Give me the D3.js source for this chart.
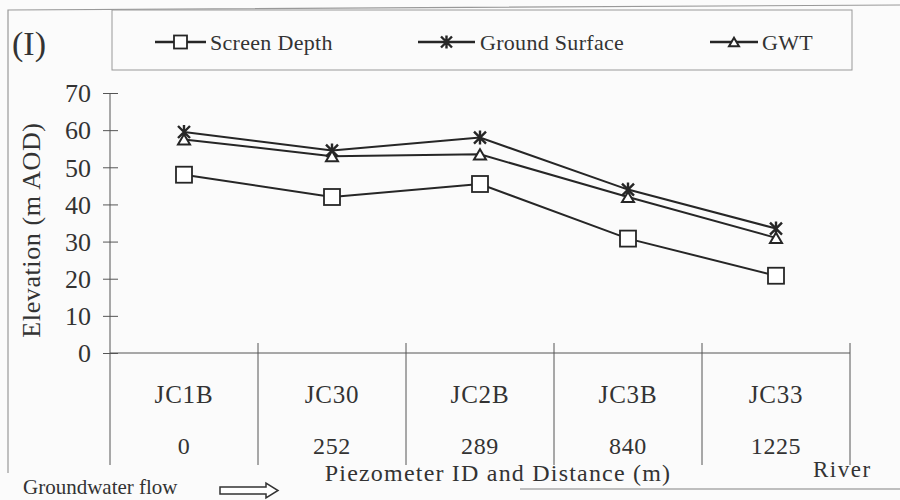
<!DOCTYPE html>
<html>
<head>
<meta charset="utf-8">
<script src="https://cdn.jsdelivr.net/npm/d3@7"></script>
<style>
  html, body { margin: 0; padding: 0; background: #fbfbfb; }
  svg { display: block; }
  text { font-family: "Liberation Serif", "Times New Roman", serif; fill: #333; }
</style>
</head>
<body>
<svg id="chart" width="900" height="500"></svg>
<script>
// ---- data ----
const categories = ["JC1B", "JC30", "JC2B", "JC3B", "JC33"];
const distances = ["0", "252", "289", "840", "1225"];
const screenDepth = [48, 42, 45.5, 30.8, 20.8];
const groundSurface = [59.5, 54.5, 58, 44, 33.5];
const gwt = [57.5, 53, 53.5, 42, 31];
const yTicks = [0, 10, 20, 30, 40, 50, 60, 70];
const seriesNames = ["Screen Depth", "Ground Surface", "GWT"];

const svg = d3.select("#chart");
const ink = "#262626";

// outer frame (scanned figure border)
svg.append("path")
  .attr("d", "M8,473 L8,10 L900,5")
  .attr("fill", "none").attr("stroke", "#999").attr("stroke-width", 1.2);
svg.append("line")
  .attr("x1", 520).attr("x2", 900).attr("y1", 489).attr("y2", 489)
  .attr("stroke", "#aaa").attr("stroke-width", 1.5);

// panel label
svg.append("text").attr("x", 12).attr("y", 55)
  .style("font-size", "34px").text("(I)");

// scales
const x = d3.scaleBand().domain(categories).range([110, 850]).padding(0);
const y = d3.scaleLinear().domain([0, 70]).range([353, 93]);

// y axis
const yAxis = svg.append("g").attr("transform", "translate(110,0)")
  .call(d3.axisLeft(y).tickValues(yTicks).tickSize(7).tickSizeOuter(0).tickPadding(12));
yAxis.select(".domain").remove();
yAxis.selectAll(".tick line").attr("x1", 8).attr("stroke", "#555").attr("stroke-width", 1);
yAxis.selectAll(".tick text")
  .style("font-family", "'Liberation Serif', 'Times New Roman', serif")
  .style("font-size", "26px").attr("fill", "#333").attr("dy", "0.34em");
svg.append("line").attr("x1", 110).attr("x2", 110).attr("y1", y(70)).attr("y2", 465)
  .attr("stroke", "#555").attr("stroke-width", 1);

// x axis line + category dividers
svg.append("line").attr("x1", 110).attr("x2", 850).attr("y1", y(0)).attr("y2", y(0))
  .attr("stroke", "#555").attr("stroke-width", 1);
const bounds = categories.slice(1).map(c => x(c)).concat([x.range()[1]]);
svg.selectAll("line.div").data(bounds).enter().append("line")
  .attr("class", "div")
  .attr("x1", d => d).attr("x2", d => d).attr("y1", 343).attr("y2", 465)
  .attr("stroke", "#555").attr("stroke-width", 1);

// category and distance labels
const cx = c => x(c) + x.bandwidth() / 2;
svg.selectAll("text.cat").data(categories).enter().append("text")
  .attr("class", "cat").attr("x", c => cx(c)).attr("y", 403)
  .attr("text-anchor", "middle").style("font-size", "25px").style("letter-spacing", "0.8px")
  .text(d => d);
svg.selectAll("text.dist").data(distances).enter().append("text")
  .attr("class", "dist").attr("x", (d, i) => cx(categories[i])).attr("y", 454)
  .attr("text-anchor", "middle").style("font-size", "24px").style("letter-spacing", "0.6px")
  .text(d => d);

// axis titles
svg.append("text").attr("x", 498).attr("y", 481).attr("text-anchor", "middle")
  .style("font-size", "24px").style("letter-spacing", "1.2px")
  .text("Piezometer ID and Distance (m)");
svg.append("text").attr("x", 813).attr("y", 477)
  .style("font-size", "23px").style("letter-spacing", "1.5px").text("River");
svg.append("text").attr("transform", "translate(40,230) rotate(-90)")
  .attr("text-anchor", "middle").style("font-size", "26px").style("letter-spacing", "0.6px")
  .text("Elevation (m AOD)");

// groundwater flow note + arrow
svg.append("text").attr("x", 23).attr("y", 494)
  .style("font-size", "21px").style("letter-spacing", "0px").text("Groundwater flow");
svg.append("path")
  .attr("d", "M220,487 L266,487 L266,483 L278,490.5 L266,498 L266,494 L220,494 Z")
  .attr("fill", "#fff").attr("stroke", "#333").attr("stroke-width", 1.5);

// marker drawers
function drawMarker(g, type, px, py, s) {
  if (type === "square") {
    g.append("rect").attr("x", px - s / 2).attr("y", py - s / 2).attr("width", s).attr("height", s)
      .attr("fill", "#fff").attr("stroke", ink).attr("stroke-width", 1.8);
  } else if (type === "triangle") {
    const h = s * 0.85;
    g.append("path")
      .attr("d", `M${px},${py - h / 2} L${px + s / 2},${py + h / 2} L${px - s / 2},${py + h / 2} Z`)
      .attr("fill", "#fff").attr("stroke", ink).attr("stroke-width", 2);
  } else {
    const r = s / 2;
    g.append("path")
      .attr("d", `M${px - r},${py - r} L${px + r},${py + r} M${px + r},${py - r} L${px - r},${py + r} M${px},${py - r - 1} L${px},${py + r + 1}`)
      .attr("fill", "none").attr("stroke", ink).attr("stroke-width", 2.4);
  }
}

// series
const series = [
  { name: seriesNames[0], values: screenDepth, type: "square", size: 16 },
  { name: seriesNames[1], values: groundSurface, type: "star", size: 12 },
  { name: seriesNames[2], values: gwt, type: "triangle", size: 12 }
];
const line = d3.line().x((d, i) => cx(categories[i])).y(d => y(d));
const plot = svg.append("g");
series.forEach(s => {
  plot.append("path").datum(s.values).attr("d", line)
    .attr("fill", "none").attr("stroke", ink).attr("stroke-width", 2);
});
series.forEach(s => {
  const g = plot.append("g");
  s.values.forEach((v, i) => drawMarker(g, s.type, cx(categories[i]), y(v), s.size));
});

// legend
svg.append("rect").attr("x", 112).attr("y", 10).attr("width", 740).attr("height", 60)
  .attr("fill", "none").attr("stroke", "#999").attr("stroke-width", 1);
const legendItems = [
  { s: series[0], x1: 155, x2: 206, tx: 210, size: 13 },
  { s: series[1], x1: 418, x2: 475, tx: 480, size: 11 },
  { s: series[2], x1: 710, x2: 758, tx: 762, size: 10 }
];
const ly = 42;
legendItems.forEach(it => {
  const g = svg.append("g");
  g.append("line").attr("x1", it.x1).attr("x2", it.x2).attr("y1", ly).attr("y2", ly)
    .attr("stroke", ink).attr("stroke-width", 2.5);
  drawMarker(g, it.s.type, (it.x1 + it.x2) / 2, ly, it.size);
  g.append("text").attr("x", it.tx).attr("y", ly + 8)
    .style("font-size", "22px").style("letter-spacing", "0.3px").text(it.s.name);
});
</script>
</body>
</html>
